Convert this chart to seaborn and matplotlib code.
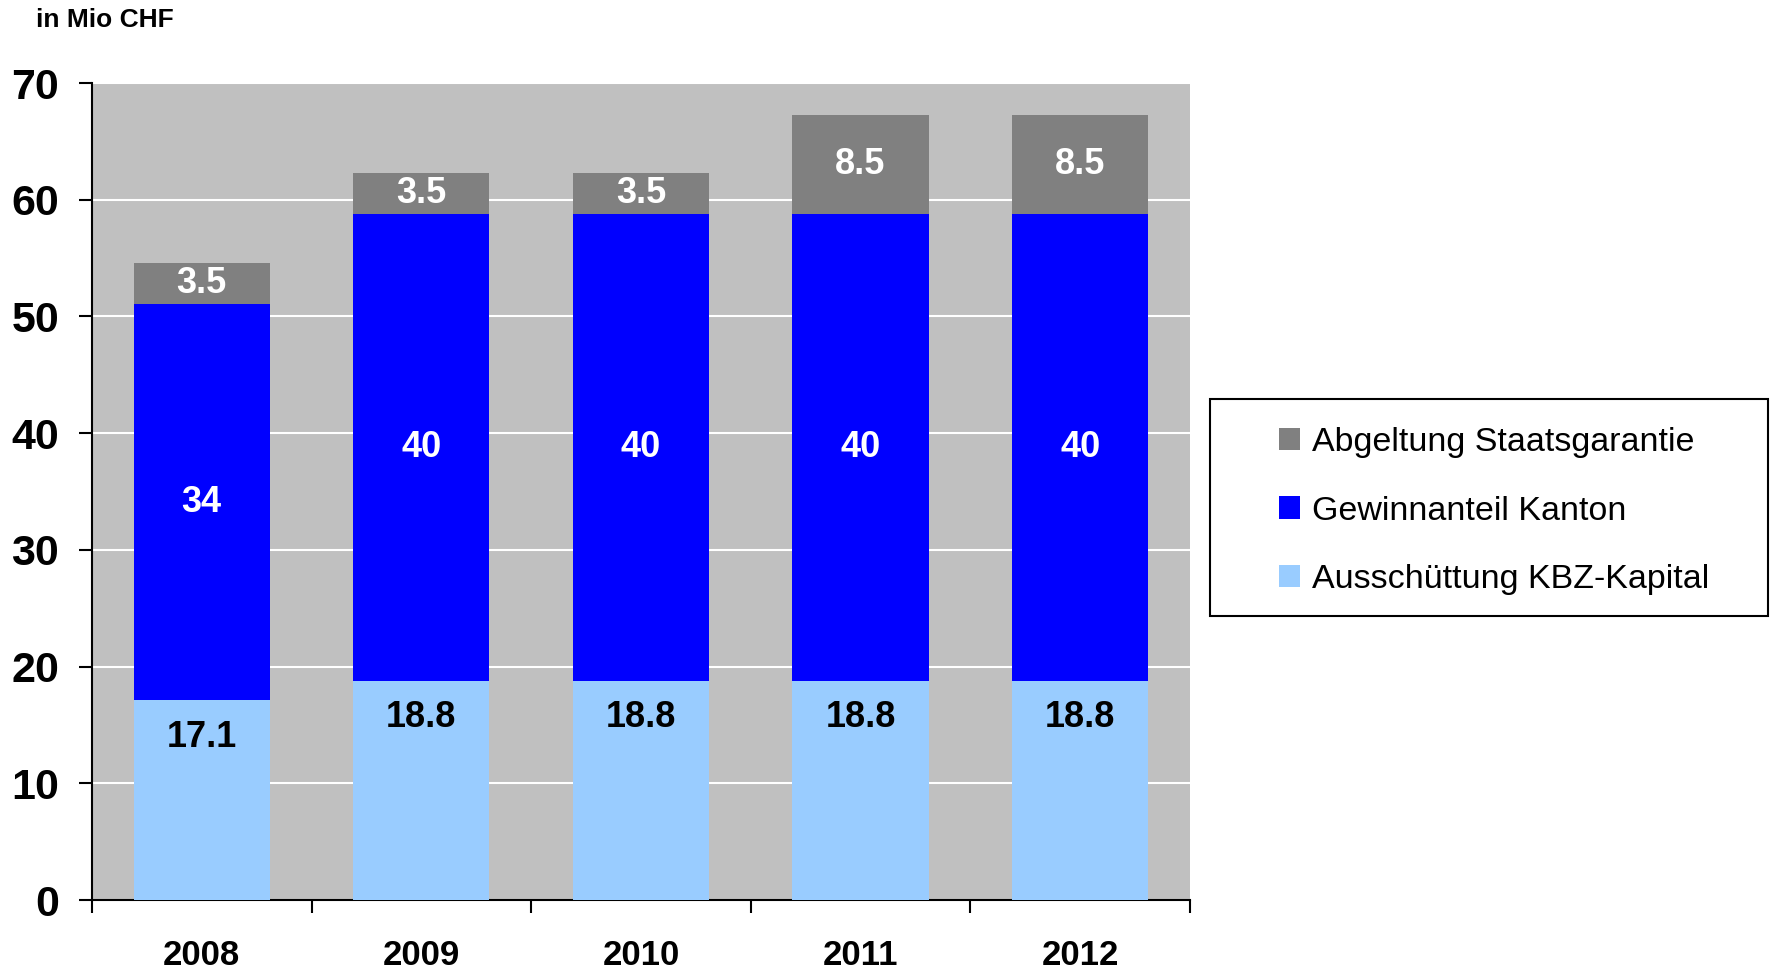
import matplotlib
matplotlib.use("Agg")
import matplotlib.pyplot as plt
import seaborn as sns
import pandas as pd
import numpy as np
from matplotlib.patches import Patch, Rectangle

years = ["2008", "2009", "2010", "2011", "2012"]
ausschuettung = [17.1, 18.8, 18.8, 18.8, 18.8]
gewinnanteil = [34, 40, 40, 40, 40]
abgeltung = [3.5, 3.5, 3.5, 8.5, 8.5]
series_names = ["Abgeltung Staatsgarantie", "Gewinnanteil Kanton", "Ausschüttung KBZ-Kapital"]
yticks = [0, 10, 20, 30, 40, 50, 60, 70]

c_gray = "#808080"
c_blue = "#0000FF"
c_light = "#99CCFF"

sns.set_style("white")
plt.rcParams["font.family"] = ["Liberation Sans", "DejaVu Sans"]
plt.rcParams["text.color"] = "black"
plt.rcParams["xtick.color"] = "black"
plt.rcParams["ytick.color"] = "black"
plt.rcParams["axes.labelcolor"] = "black"

W, H = 1771, 971
fig = plt.figure(figsize=(W / 100, H / 100), dpi=100)
ax = fig.add_axes([0.0519, 0.0731, 0.6200, 0.8414])
ax.set_facecolor("#C0C0C0")

df = pd.DataFrame({
    "year": years,
    "a": ausschuettung,
    "g": gewinnanteil,
    "s": abgeltung,
})
df["c1"] = df["a"]
df["c2"] = df["a"] + df["g"]
df["c3"] = df["c2"] + df["s"]

for col, colr in [("c3", c_gray), ("c2", c_blue), ("c1", c_light)]:
    sns.barplot(data=df, x="year", y=col, color=colr, width=0.62,
                saturation=1, ax=ax, zorder=3, linewidth=0)

ax.set_xlim(-0.5, 4.5)
ax.set_ylim(0, 70)
ax.set_yticks(yticks)
ax.yaxis.grid(True, color="white", linewidth=1.5, zorder=0)
ax.set_axisbelow(True)
ax.set_xlabel("")
ax.set_ylabel("")

for sp in ["top", "right"]:
    ax.spines[sp].set_visible(False)
for sp in ["left", "bottom"]:
    ax.spines[sp].set_color("black")
    ax.spines[sp].set_linewidth(1.5)

ax.tick_params(axis="y", length=9.5, width=1.5, color="black", pad=14,
               labelsize=31, left=True, direction="out", labelcolor="black")
for t in ax.get_yticklabels():
    t.set_fontweight("bold")
ax.set_xticks(range(len(years)))
ax.set_xticklabels(years, fontsize=25, fontweight="bold")
ax.tick_params(axis="x", which="major", length=0, pad=28, labelcolor="black")
ax.set_xticks(np.arange(-0.5, len(years), 1.0), minor=True)
ax.tick_params(axis="x", which="minor", length=9, width=1.5, color="black",
               bottom=True, direction="out")

for i in range(len(years)):
    a, g, s = ausschuettung[i], gewinnanteil[i], abgeltung[i]
    ax.text(i, a - 3.2, f"{a:g}", ha="center", va="center", fontsize=26,
            fontweight="bold", color="black", zorder=5)
    ax.text(i, a + g / 2, f"{g:g}", ha="center", va="center", fontsize=26,
            fontweight="bold", color="white", zorder=5)
    ax.text(i, a + g + s / 2, f"{s:g}", ha="center", va="center", fontsize=26,
            fontweight="bold", color="white", zorder=5)

# legend frame
x0, y0, x1, y1 = 1210, 399, 1768, 616
fig.patches.append(Rectangle((x0 / W, 1 - y1 / H), (x1 - x0) / W, (y1 - y0) / H,
                             transform=fig.transFigure, facecolor="white",
                             edgecolor="black", linewidth=1.5, zorder=0))

handles = [Patch(facecolor=c, edgecolor="none") for c in [c_gray, c_blue, c_light]]
leg = fig.legend(handles, series_names, loc="center left",
                 bbox_to_anchor=(1279 / W, 1 - 511 / H),
                 fontsize=24.5, frameon=False,
                 handlelength=0.62, handleheight=0.62, handletextpad=0.35,
                 labelspacing=1.1, borderpad=0, borderaxespad=0)
for t in leg.get_texts():
    t.set_color("black")
leg.set_zorder(2)

fig.text(36 / W, 1 - 20 / H, "in Mio CHF", fontsize=19, fontweight="bold",
         ha="left", va="center", color="black")

fig.savefig("out.png", dpi=100)
